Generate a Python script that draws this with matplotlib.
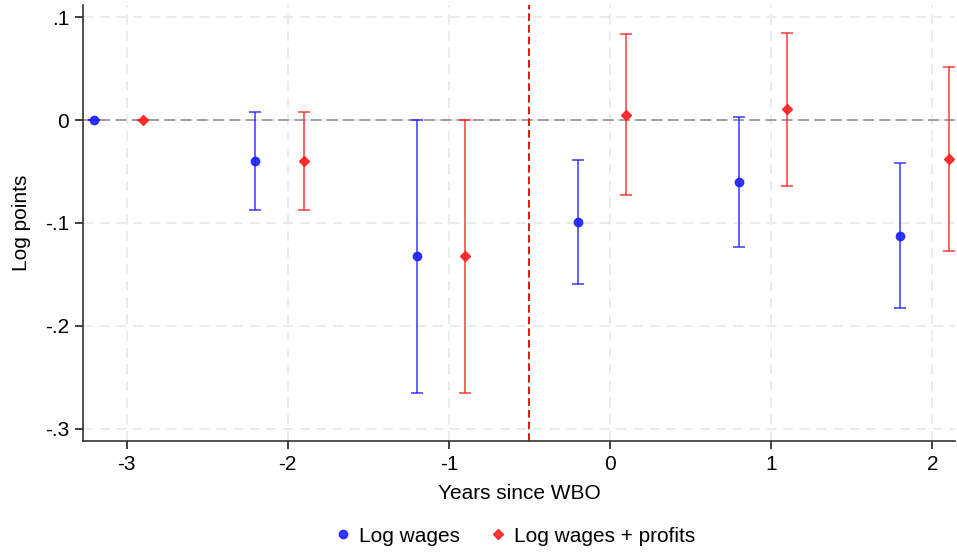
import numpy as np
import matplotlib
matplotlib.use("Agg")
import matplotlib.pyplot as plt
from matplotlib.lines import Line2D

plt.rcParams['font.family'] = ['Liberation Sans', 'DejaVu Sans']

# ----------------------------------------------------------
# data
# ----------------------------------------------------------
years = [-3, -2, -1, 0, 1, 2]

wage_x = [-3.2, -2.2, -1.2, -0.2, 0.8, 1.8]
wage_est = [0.0, -0.040, -0.132, -0.0995, -0.060, -0.113]
wage_lo = [0.0, -0.087, -0.265, -0.159, -0.123, -0.183]
wage_hi = [0.0, 0.008, 0.0, -0.039, 0.003, -0.042]

prof_x = [-2.9, -1.9, -0.9, 0.1, 1.1, 2.1]
prof_est = [0.0, -0.040, -0.132, 0.0055, 0.0105, -0.038]
prof_lo = [0.0, -0.087, -0.265, -0.073, -0.064, -0.1275]
prof_hi = [0.0, 0.008, 0.0, 0.084, 0.0845, 0.052]

y_ticks = [0.1, 0.0, -0.1, -0.2, -0.3]
y_labels = ['.1', '0', '-.1', '-.2', '-.3']

BLUE = '#1f1fff'
RED = '#ff2020'

fig = plt.figure(figsize=(9.57, 5.54), dpi=100)
ax = fig.add_axes([83 / 957, 113 / 554, (955 - 83) / 957, (441 - 5) / 554])

# grid
ax.set_axisbelow(True)
ax.grid(True, color='#e8e8e8', linestyle=(0, (6, 4)), linewidth=1.2)

ax.axhline(0, color='#999999', linestyle=(0, (6, 3)), linewidth=1.3, zorder=1)
ax.axvline(-0.5, color='#ee1111', linestyle=(0, (4, 2)), linewidth=1.4, zorder=1)


def draw(xs, est, lo, hi, color, marker, ms):
    est = np.array(est)
    yerr = [est - np.array(lo), np.array(hi) - est]
    ax.errorbar(xs, est, yerr=yerr, fmt='none', ecolor=color, alpha=0.75,
                elinewidth=1.3, capsize=4, capthick=1.3, zorder=2)
    ax.plot(xs, est, linestyle='none', marker=marker, color=color,
            markersize=ms, alpha=0.9, zorder=3)


draw(wage_x, wage_est, wage_lo, wage_hi, BLUE, 'o', 6)
draw(prof_x, prof_est, prof_lo, prof_hi, RED, 'D', 5.5)

ax.set_xlim(-3.27, 2.14)
ax.set_ylim(-0.312, 0.112)
ax.set_xticks(years)
ax.set_xticklabels([str(v) for v in years])
ax.set_yticks(y_ticks)
ax.set_yticklabels(y_labels)
ax.tick_params(axis='both', labelsize=15, length=6, width=1.2, color='#222222', pad=4)

for side in ['top', 'right']:
    ax.spines[side].set_visible(False)
for side in ['left', 'bottom']:
    ax.spines[side].set_linewidth(1.2)
    ax.spines[side].set_color('#333333')

ax.set_xlabel('Years since WBO', fontsize=15, labelpad=7)
ax.set_ylabel('Log points', fontsize=15, labelpad=10)

handles = [
    Line2D([], [], linestyle='none', marker='o', color=BLUE, markersize=6, alpha=0.9),
    Line2D([], [], linestyle='none', marker='D', color=RED, markersize=5.5, alpha=0.9),
]
fig.legend(handles, ['Log wages', 'Log wages + profits'], loc='center',
           bbox_to_anchor=(513 / 957, 1 - 536 / 554), ncol=2, frameon=False,
           fontsize=15, handletextpad=0.15, columnspacing=1.25, handlelength=1.2)

fig.savefig('out.png', dpi=100)
